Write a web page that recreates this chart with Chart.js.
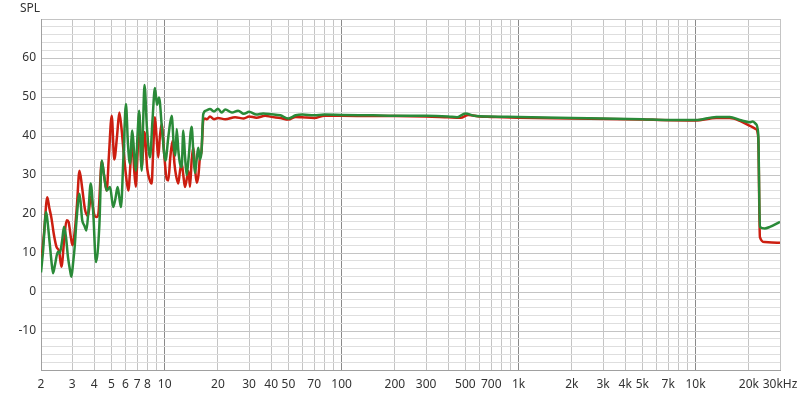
<!DOCTYPE html>
<html>
<head>
<meta charset="utf-8">
<script src="https://cdn.jsdelivr.net/npm/chart.js@4"></script>
<style>
html,body{margin:0;background:#fff}
#wrap{width:800px;height:395px}
</style>
</head>
<body>
<div id="wrap"><canvas id="fr"></canvas></div>
<script>
// frequency response, two channels
const redHz = [
	2.00, 2.08, 2.17, 2.23, 2.29, 2.37, 2.45, 2.53, 2.61, 2.70,
	2.79, 2.86, 2.95, 3.01, 3.11, 3.19, 3.30, 3.41, 3.55, 3.69,
	3.83, 3.99, 4.12, 4.22, 4.41, 4.54, 4.70, 4.84, 5.02, 5.19,
	5.38, 5.54, 5.70, 5.83, 6.04, 6.23, 6.41, 6.56, 6.71, 6.86,
	7.02, 7.18, 7.41, 7.69, 7.97, 8.26, 8.44, 8.59, 8.81, 8.99,
	9.20, 9.40, 9.61, 9.91, 10.26, 10.48, 10.78, 11.09, 11.35, 11.58,
	11.93, 12.20, 12.47, 12.74, 13.02, 13.63, 13.90, 14.20, 14.51, 14.83,
	15.16, 15.52, 15.82, 16.14, 16.52, 16.89, 17.34, 18.03,
	19, 20, 22, 25, 28, 30, 33, 37, 40, 45,
	50, 55, 60, 70, 80, 100, 150, 200, 300, 400,
	470, 520, 600, 700, 1000, 2000, 5000, 10000, 13100, 15600,
	17800, 20300, 21900, 22600, 23100, 24600, 27000, 30000
];
const redDb = [
	7, 15, 24.3, 21.5, 19, 14.5, 11.5, 10.5, 6.5, 13,
	18.4, 18, 14, 12, 16, 22, 31.1, 27, 21, 19.5,
	24.5, 20, 19.2, 20.1, 33.5, 30, 26, 35, 45.2, 34,
	40, 46, 42, 37, 30, 26, 33, 39.6, 32, 27,
	35, 45.6, 32, 41, 31.6, 28.5, 27.8, 35, 44.8, 40,
	34.5, 40, 43.1, 36, 29, 28.6, 35, 38.8, 33, 30,
	27.8, 31, 33, 30, 26.9, 31, 27, 33.7, 37.1, 32,
	28, 30, 34.5, 36, 44, 44.5, 44.3, 45,
	44.3, 44.6, 44.3, 44.8, 44.5, 45, 44.7, 45.2, 44.9, 44.6,
	44.2, 44.9, 44.8, 44.6, 45.2, 45.2, 45.1, 45.1, 45, 44.8,
	44.7, 45.4, 45, 44.9, 44.7, 44.5, 44.2, 44, 44.6, 44.6,
	43.9, 42.6, 41.8, 39.6, 14.1, 12.8, 12.7, 12.6
];
const greenHz = [
	2.00, 2.05, 2.14, 2.19, 2.24, 2.29, 2.34, 2.40, 2.49, 2.55,
	2.63, 2.70, 2.77, 2.84, 2.92, 2.97, 3.03, 3.10, 3.17, 3.30,
	3.42, 3.52, 3.61, 3.71, 3.82, 3.95, 4.09, 4.27, 4.41, 4.54,
	4.70, 4.91, 5.12, 5.27, 5.42, 5.55, 5.66, 5.85, 6.04, 6.20,
	6.36, 6.56, 6.71, 6.86, 7.02, 7.18, 7.41, 7.54, 7.69, 7.94,
	8.26, 8.53, 8.81, 9.05, 9.29, 9.65, 10.10, 10.50, 10.95, 11.28,
	11.50, 11.69, 11.96, 12.20, 12.47, 12.74, 13.02, 13.31, 13.63, 14.20,
	14.55, 14.83, 15.16, 15.48, 15.82, 16.14, 16.52, 17.11, 18.03,
	19, 20, 21, 22, 24, 26, 28, 30, 33, 36,
	40, 45, 50, 55, 60, 70, 80, 100, 150, 200,
	300, 400, 450, 500, 560, 700, 1000, 2000, 3000, 5000,
	7000, 10000, 13100, 15600, 17800, 20300, 21000, 21900, 22600, 23100,
	24600, 26300, 30000
];
const greenDb = [
	5, 10, 20.5, 17, 12.5, 8, 4.8, 7, 10.3, 9.9,
	13, 16.7, 14, 9, 5.5, 3.9, 7, 11.6, 18, 25.2,
	18.4, 17, 15.8, 21, 27.8, 20, 7.7, 16.7, 33.7, 30,
	26, 26.9, 21.8, 24, 26.9, 24, 21.8, 35, 48.2, 38,
	32.9, 41.4, 36, 31.1, 40, 46.5, 31.1, 42, 53.1, 42,
	34.5, 44, 52.3, 48, 49.9, 42, 33.7, 40, 45.2, 37,
	35, 41.8, 36, 33, 32, 41.4, 35, 30, 34, 42.4,
	35, 30.5, 34, 37, 34, 36, 45.6, 46.5, 46.9,
	46.3, 47, 46, 46.8, 46, 46.5, 45.7, 46.2, 45.5, 45.8,
	45.6, 45.3, 44.5, 45.3, 45.5, 45.3, 45.5, 45.4, 45.3, 45.2,
	45.2, 45, 44.8, 45.8, 45.2, 45, 44.9, 44.6, 44.5, 44.3,
	44.1, 44.1, 44.9, 44.9, 44.1, 43.5, 43.7, 43.1, 40.5, 16.7,
	16.3, 16.7, 18
];

const decades = [1, 10, 100, 1000, 10000];
const labelHz = [2,3,4,5,6,7,8,10,20,30,40,50,70,100,200,300,500,700,
	1000,2000,3000,4000,5000,7000,10000,20000,30000];
const labelText = ['2','3','4','5','6','7','8','10','20','30','40','50','70','100','200','300','500','700',
	'1k','2k','3k','4k','5k','7k','10k','20k','30kHz'];
const dbLabels = [-10, 0, 10, 20, 30, 40, 50, 60];

const gridHz = [];
decades.forEach(d => {
	for (let m = 1; m <= 9; m++) {
		const v = d * m;
		if (v >= 2 && v <= 30000) gridHz.push(v);
	}
});

const pts = (hz, db) => hz.map((f, i) => ({x: f, y: db[i]}));
const FONT = {family: '"Noto Sans", "Open Sans", sans-serif', size: 12};

const splLabel = {
	id: 'splLabel',
	afterDraw(chart) {
		const g = chart.ctx;
		g.save();
		g.font = '12px "Noto Sans", "Open Sans", sans-serif';
		g.fillStyle = '#333';
		g.textBaseline = 'middle';
		g.textAlign = 'left';
		g.fillText('SPL', 20, 9);
		g.restore();
	}
};

new Chart(document.getElementById('fr'), {
	type: 'line',
	data: {
		datasets: [
			{
				data: pts(greenHz, greenDb),
				borderColor: '#2a8a38',
				borderWidth: 2.5,
				pointRadius: 0,
				cubicInterpolationMode: 'monotone'
			},
			{
				data: pts(redHz, redDb),
				borderColor: '#cc1e10',
				borderWidth: 2.5,
				pointRadius: 0,
				cubicInterpolationMode: 'monotone'
			}
		]
	},
	options: {
		responsive: true,
		maintainAspectRatio: false,
		animation: false,
		layout: {padding: {top: 19, right: 20, left: 0, bottom: 0}},
		plugins: {
			legend: {display: false},
			tooltip: {enabled: false}
		},
		scales: {
			x: {
				type: 'logarithmic',
				min: 2,
				max: 30000,
				afterBuildTicks: s => { s.ticks = gridHz.map(v => ({value: v})); },
				afterFit: s => {
					s.height = 25;
					s.paddingLeft = 0;
					s.paddingRight = 0;
				},
				ticks: {
					autoSkip: false,
					maxRotation: 0,
					padding: 7,
					color: '#333',
					font: FONT,
					callback: v => {
						const i = labelHz.indexOf(v);
						return i < 0 ? '' : labelText[i];
					}
				},
				grid: {
					drawTicks: false,
					color: c => decades.includes(c.tick && c.tick.value) ? '#8a8a8a' : '#c4c4c4'
				},
				border: {color: '#a0a0a0'}
			},
			y: {
				min: -20,
				max: 70,
				afterFit: s => { s.width = 41; },
				ticks: {
					stepSize: 2,
					autoSkip: false,
					padding: 5,
					color: '#333',
					font: FONT,
					callback: v => dbLabels.includes(v) ? String(v) : ''
				},
				grid: {
					drawTicks: false,
					color: c => (c.tick && c.tick.value % 10 === 0) ? '#c4c4c4' : '#dedede'
				},
				border: {color: '#a0a0a0'}
			}
		}
	},
	plugins: [splLabel]
});
</script>
</body>
</html>
